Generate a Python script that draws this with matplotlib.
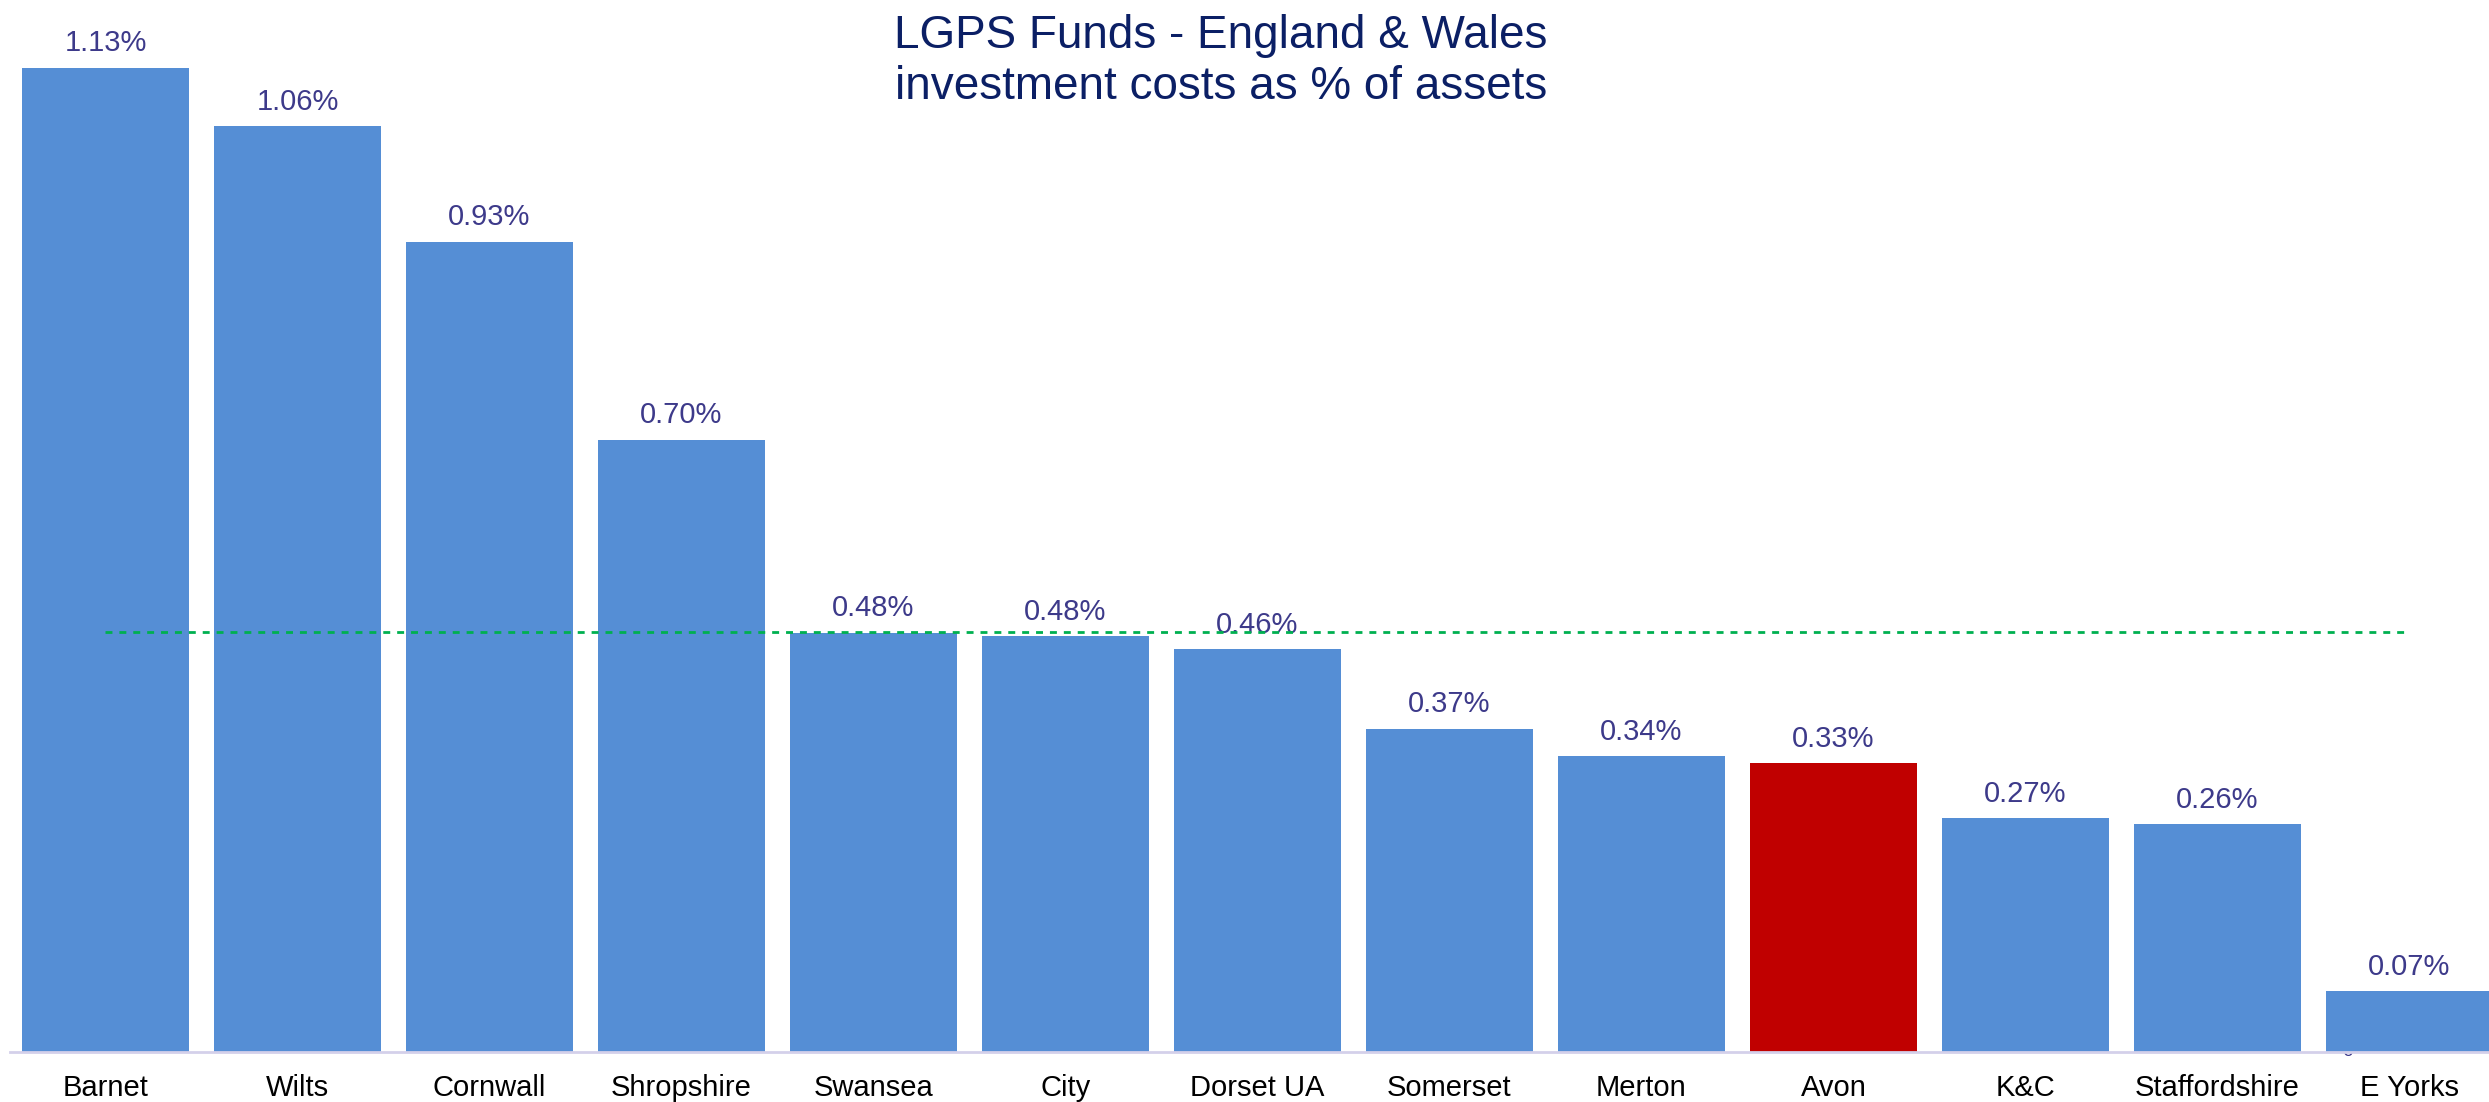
import matplotlib
matplotlib.use("Agg")
import matplotlib.pyplot as plt

categories = ["Barnet", "Wilts", "Cornwall", "Shropshire", "Swansea", "City",
              "Dorset UA", "Somerset", "Merton", "Avon", "K&C", "Staffordshire", "E Yorks"]
values = [1.13, 1.063, 0.93, 0.703, 0.481, 0.477, 0.462, 0.371, 0.339, 0.331, 0.268, 0.261, 0.069]
highlight = "Avon"
average = 0.482
title_lines = ["LGPS Funds - England & Wales", "investment costs as % of assets"]

plt.rcParams['font.family'] = ['Liberation Sans', 'DejaVu Sans']

W, H = 2489, 1102
fig = plt.figure(figsize=(W / 100, H / 100), dpi=100)
base_px = 1051.5
px_per_unit = 870.4
left_px = 9.5
pitch = 192
ax = fig.add_axes([left_px / W, (H - base_px) / H, 13 * pitch / W, base_px / H])

blue = "#558ED5"
red = "#C00000"
colors = [red if c == highlight else blue for c in categories]
x = list(range(len(categories)))
ax.bar(x, values, width=167 / 192, color=colors, zorder=2)
ax.set_xlim(-0.5, len(categories) - 0.5)
ax.set_ylim(0, base_px / px_per_unit)

for xi, v in zip(x, values):
    ax.annotate(f"{v:.2f}%", (xi, v), xytext=(0, 12), textcoords="offset points",
                ha="center", va="baseline", fontsize=21, color="#3d3a8a", zorder=4)

ax.plot([0, len(categories) - 1], [average, average], color="#00b050", lw=2,
        dashes=(2.5, 2.5), zorder=5)

# small hidden "0" label peeking under the last bar
ax.text(len(categories) - 1 - 0.32, 0, "0", ha="center", va="center", fontsize=14,
        color="#3d3a8a", zorder=1, clip_on=False)

for s in ["top", "right", "left"]:
    ax.spines[s].set_visible(False)
ax.spines["bottom"].set_color("#d4d0ea")
ax.spines["bottom"].set_linewidth(2)
ax.spines["bottom"].set_zorder(3)
ax.set_yticks([])
ax.set_xticks(x)
ax.set_xticklabels(categories, fontsize=21, color="black")
ax.tick_params(axis="x", length=0, pad=16)

fig.text(1221 / W, 1 - 48 / H, title_lines[0], ha="center", va="baseline",
         fontsize=33, color="#0b1f65")
fig.text(1221 / W, 1 - 99 / H, title_lines[1], ha="center", va="baseline",
         fontsize=33, color="#0b1f65")

fig.savefig("out.png", dpi=100)
